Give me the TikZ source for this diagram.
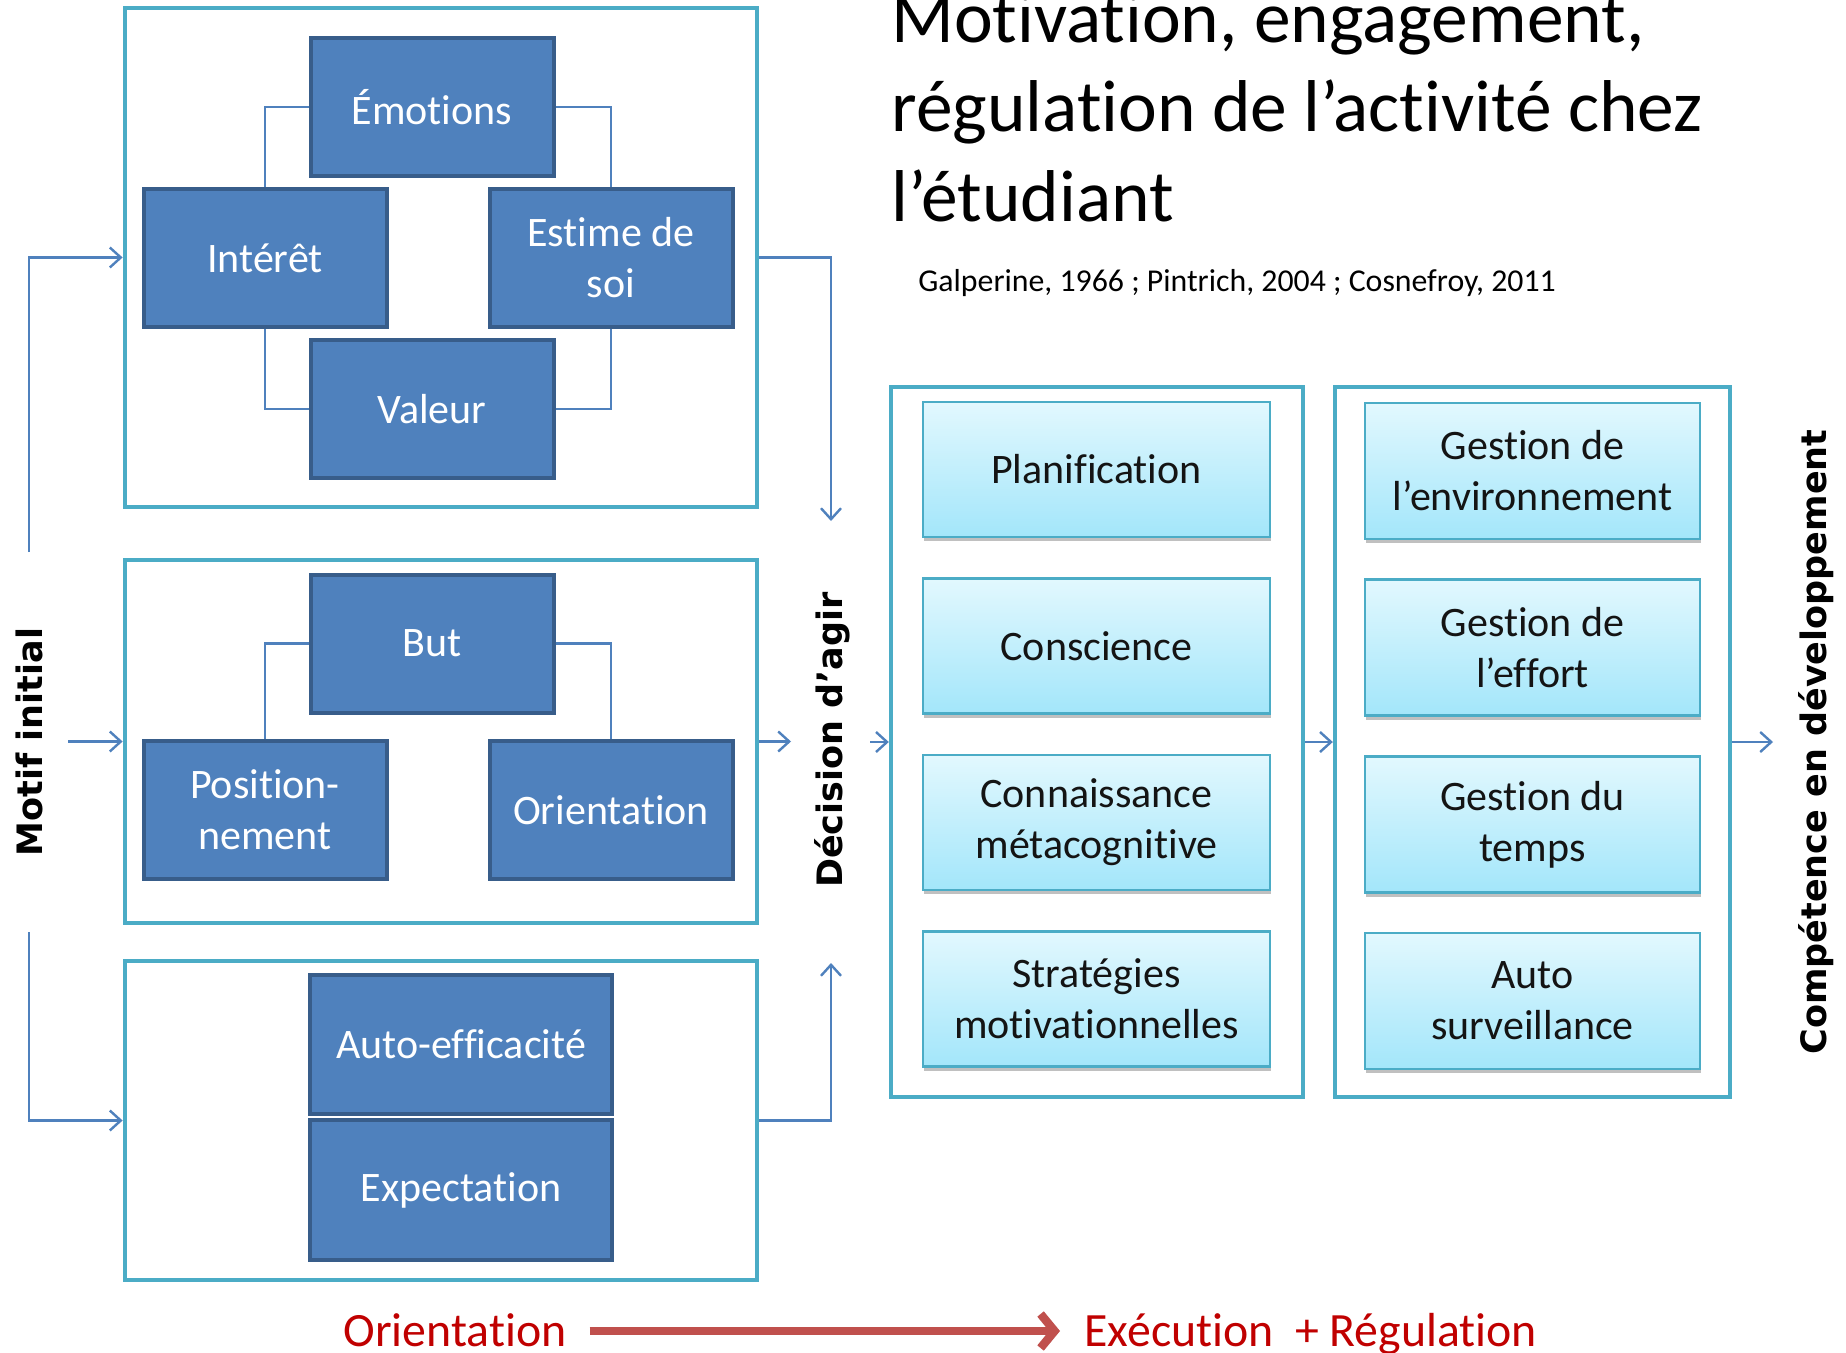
\documentclass[tikz,border=0pt]{standalone}
\usepackage{fontspec}
\setmainfont{Carlito}[Ligatures=NoCommon]
\newfontfamily\lblfont{DejaVu Sans}
\usetikzlibrary{arrows.meta,shadows}
\definecolor{dkfill}{HTML}{4F81BD}
\definecolor{dkborder}{HTML}{385D8A}
\definecolor{panelc}{HTML}{4BACC6}
\definecolor{connc}{HTML}{4F81BD}
\definecolor{ltop}{HTML}{E2F8FE}
\definecolor{lbot}{HTML}{A3E6FA}
\definecolor{redtxt}{HTML}{C00000}
\definecolor{redarrow}{HTML}{C0504D}
\newcommand{\boxfont}{\fontsize{21}{25.5}\selectfont}
\begin{document}
\begin{tikzpicture}[x=0.5pt,y=-0.5pt,
  dkbox/.style={draw=dkborder, line width=2pt, fill=dkfill, text=white,
    minimum width=121.5pt, minimum height=69pt, inner sep=0pt, align=center, font=\boxfont},
  panelbox/.style={draw=panelc, line width=2.4pt, inner sep=0pt},
  ltbox/.style={draw=panelc, line width=1.2pt, top color=ltop, bottom color=lbot,
    drop shadow={shadow xshift=0.6pt, shadow yshift=-2pt, opacity=0.35, fill=black!70},
    minimum height=67.5pt, inner sep=0pt, align=center, font=\boxfont, text=black!92},
  conn/.style={draw=connc, line width=1.2pt},
  arr/.style={conn, -{Straight Barb[length=5.5pt,width=10pt]}},
  vlabel/.style={rotate=90, font=\lblfont\bfseries\fontsize{17.5}{20}\selectfont, inner sep=0pt},
  redlbl/.style={text=redtxt, font=\fontsize{23.9}{28}\selectfont, inner sep=0pt},
]
\fill[white] (0,0) rectangle (1846,1353);
\useasboundingbox (0,0) rectangle (1846,1353);

% title
\node[anchor=base west, inner sep=0pt, font=\fontsize{36.7}{44.8}\selectfont] (t1) at (891,43) {Motivation, engagement,};
\node[anchor=base west, inner sep=0pt, font=\fontsize{36.7}{44.8}\selectfont] (t2) at (891,132) {régulation de l’activité chez};
\node[anchor=base west, inner sep=0pt, font=\fontsize{36.7}{44.8}\selectfont] (t3) at (891,222) {l’étudiant};
\node[anchor=base west, inner sep=0pt, font=\fontsize{15.9}{19}\selectfont] (cite) at (918,292) {Galperine, 1966 ; Pintrich, 2004 ; Cosnefroy, 2011};

% panels
\node[panelbox, minimum width=316pt, minimum height=249.5pt] (ptop) at (441,257.5) {};
\node[panelbox, minimum width=316pt, minimum height=181.5pt] (pmid) at (441,741.5) {};
\node[panelbox, minimum width=316pt, minimum height=159.5pt] (pbot) at (441,1120.5) {};

% top panel boxes
\node[dkbox] (emo) at (432,107) {Émotions};
\node[dkbox] (int) at (265,258) {Intérêt};
\node[dkbox] (est) at (611,258) {Estime de\\soi};
\node[dkbox] (val) at (432,409) {Valeur};
\draw[conn] (emo.west) -| (int.north);
\draw[conn] (emo.east) -| (est.north);
\draw[conn] (int.south) |- (val.west);
\draw[conn] (est.south) |- (val.east);

% middle panel boxes
\node[dkbox] (but) at (432,643.5) {But};
\node[dkbox] (pos) at (265,810) {Position-\\nement};
\node[dkbox] (ori) at (611,810) {Orientation};
\draw[conn] (but.west) -| (pos.north);
\draw[conn] (but.east) -| (ori.north);

% bottom panel boxes
\node[dkbox, minimum width=151pt, minimum height=69.5pt] (auto) at (461,1044.5) {Auto-efficacité};
\node[dkbox, minimum width=151pt, minimum height=70pt] (expe) at (461,1190) {Expectation};

% left side
\node[vlabel] (motif) at (29,742) {Motif initial};
\coordinate (lTop) at (29,552);
\coordinate (lBot) at (29,932);
\coordinate (lMid) at (68,741.5);
\draw[arr] (lTop) |- (ptop.west);
\draw[arr] (lBot) |- (pbot.west);
\draw[arr] (lMid) -- (pmid.west);

% to decision
\coordinate (dTop) at (831,521);
\coordinate (dBot) at (831,963);
\coordinate (mOut) at (791,741.5);
\draw[arr] (ptop.east) -| (dTop);
\draw[arr] (pbot.east) -| (dBot);
\draw[arr] (pmid.east) -- (mOut);
\node[vlabel] (dec) at (832,740) {Décision d’agir};

% right frames
\node[panelbox, line width=2.2pt, minimum width=206pt, minimum height=355pt] (box1) at (1097,742) {};
\node[panelbox, line width=2.2pt, minimum width=197.5pt, minimum height=355pt] (box2) at (1532.5,742) {};
\coordinate (dIn) at (870,742);
\coordinate (cOut) at (1773,742);
\draw[arr] (dIn) -- (box1.west);
\draw[arr] (box1.east) -- (box2.west);
\draw[arr] (box2.east) -- (cOut);

\node[ltbox, minimum width=173.5pt] (plan) at (1096.5,469.5) {Planification};
\node[ltbox, minimum width=173.5pt] (consc) at (1096.5,646) {Conscience};
\node[ltbox, minimum width=173.5pt] (conn) at (1096.5,822.5) {Connaissance\\métacognitive};
\node[ltbox, minimum width=173.5pt] (strat) at (1096.5,999) {Stratégies\\motivationnelles};

\node[ltbox, minimum width=167.5pt, minimum height=68pt] (genv) at (1532.5,471) {Gestion de\\l’environnement};
\node[ltbox, minimum width=167.5pt, minimum height=68pt] (geff) at (1532.5,647.5) {Gestion de\\l’effort};
\node[ltbox, minimum width=167.5pt, minimum height=68pt] (gtps) at (1532.5,824.5) {Gestion du\\temps};
\node[ltbox, minimum width=167.5pt, minimum height=68pt] (asurv) at (1532.5,1001) {Auto\\surveillance};

\node[vlabel] (comp) at (1816,742) {Compétence en développement};

% bottom red
\node[redlbl, anchor=base west] (orl) at (343,1346) {Orientation};
\node[redlbl, anchor=base west] (exl) at (1084,1346) {Exécution\ \ + Régulation};
\draw[draw=redarrow, line width=4.2pt, -{Straight Barb[length=7pt,width=17pt]}, shorten <=11.5pt, shorten >=12pt]
  (orl.east |- 0,1331) -- (exl.west |- 0,1331);
\end{tikzpicture}
\end{document}
